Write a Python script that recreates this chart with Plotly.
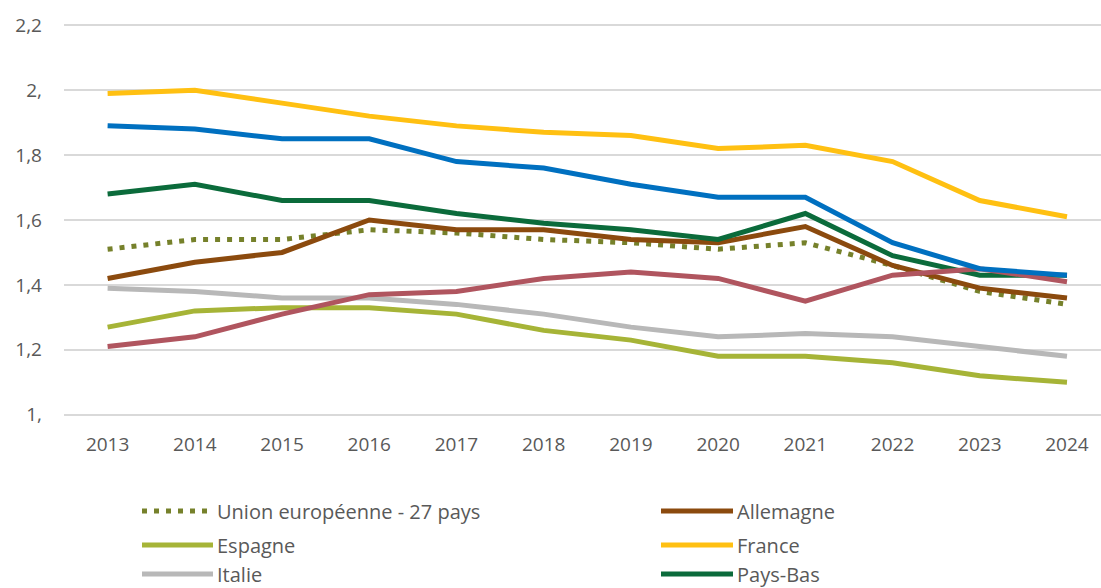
import plotly.graph_objects as go

years = [2013, 2014, 2015, 2016, 2017, 2018, 2019, 2020, 2021, 2022, 2023, 2024]
year_labels = [str(y) for y in years]

series_names = ["Union européenne - 27 pays", "Allemagne", "Espagne", "France",
                "Italie", "Pays-Bas", "Portugal", "Suède"]

ue27 = [1.51, 1.54, 1.54, 1.57, 1.56, 1.54, 1.53, 1.51, 1.53, 1.46, 1.38, 1.34]
allemagne = [1.42, 1.47, 1.50, 1.60, 1.57, 1.57, 1.54, 1.53, 1.58, 1.46, 1.39, 1.36]
espagne = [1.27, 1.32, 1.33, 1.33, 1.31, 1.26, 1.23, 1.18, 1.18, 1.16, 1.12, 1.10]
france = [1.99, 2.00, 1.96, 1.92, 1.89, 1.87, 1.86, 1.82, 1.83, 1.78, 1.66, 1.61]
italie = [1.39, 1.38, 1.36, 1.36, 1.34, 1.31, 1.27, 1.24, 1.25, 1.24, 1.21, 1.18]
pays_bas = [1.68, 1.71, 1.66, 1.66, 1.62, 1.59, 1.57, 1.54, 1.62, 1.49, 1.43, 1.43]
portugal = [1.21, 1.24, 1.31, 1.37, 1.38, 1.42, 1.44, 1.42, 1.35, 1.43, 1.45, 1.41]
suede = [1.89, 1.88, 1.85, 1.85, 1.78, 1.76, 1.71, 1.67, 1.67, 1.53, 1.45, 1.43]

y_tickvals = [1.0, 1.2, 1.4, 1.6, 1.8, 2.0, 2.2]
y_ticktext = ["1,", "1,2", "1,4", "1,6", "1,8", "2,", "2,2"]

values = [ue27, allemagne, espagne, france, italie, pays_bas, portugal, suede]
colors = ["#76812B", "#8B4A0E", "#A6B437", "#FFC012", "#B8B8B8", "#0B6B3B", "#B0555F", "#0070C0"]
dashes = ["5px,7px", "solid", "solid", "solid", "solid", "solid", "solid", "solid"]

FONT = "Open Sans, Lato, sans-serif"
FS = 19
FS_LEG = 20
TXT = "#595959"

W, H = 1101, 588
L, R, T, B = 64, 0, 22, 170
plot_w = W - L - R
plot_h = H - T - B

fig = go.Figure()
for name, vals, col, dsh in zip(series_names, values, colors, dashes):
    fig.add_trace(go.Scatter(x=years, y=vals, name=name, mode="lines",
                             line=dict(color=col, width=5, dash=dsh),
                             showlegend=False))

# manual two-column legend (like the original); only the three rows visible
# in the original picture are drawn (the fourth row lies below the page)
def px_x(px):
    return (px - L) / plot_w

def px_y(py):
    return (H - B - py) / plot_h

col_line_x = [(142, 213), (661, 733)]
col_text_x = [215, 735]
row_y = [511, 545, 574]
shapes = []
annotations = []
for i, (name, col, dsh) in enumerate(zip(series_names, colors, dashes)):
    r, c = divmod(i, 2)
    if r >= len(row_y):
        continue
    x0, x1 = col_line_x[c]
    yy = px_y(row_y[r])
    shapes.append(dict(type="line", xref="paper", yref="paper",
                       x0=px_x(x0), x1=px_x(x1), y0=yy, y1=yy,
                       line=dict(color=col, width=5, dash=dsh)))
    annotations.append(dict(xref="paper", yref="paper", x=px_x(col_text_x[c]), y=yy,
                            text=name, showarrow=False, xanchor="left", yanchor="middle",
                            font=dict(family=FONT, size=FS_LEG, color=TXT)))

fig.update_layout(
    width=W, height=H,
    margin=dict(l=L, r=R, t=T, b=B, autoexpand=False),
    paper_bgcolor="white", plot_bgcolor="white",
    shapes=shapes, annotations=annotations,
    showlegend=False,
    font=dict(family=FONT, size=FS, color=TXT),
    xaxis=dict(range=[2012.5, 2024 + (W - 1067) / 87.2], tickvals=years, ticktext=year_labels,
               showgrid=False, zeroline=False, showline=False, ticks="",
               ticklabelstandoff=13, tickfont=dict(family=FONT, size=FS, color=TXT),
               fixedrange=True),
    yaxis=dict(range=[0.99, 2.21], tickvals=y_tickvals, ticktext=y_ticktext,
               showgrid=True, gridcolor="#D9D9D9", gridwidth=1.5,
               zeroline=False, showline=False, ticks="",
               ticklabelstandoff=21, tickfont=dict(family=FONT, size=FS, color=TXT),
               fixedrange=True),
)

fig.write_html("out.html", config={"displayModeBar": False},
               post_script="document.body.style.margin='0';document.body.style.overflow='hidden';")
